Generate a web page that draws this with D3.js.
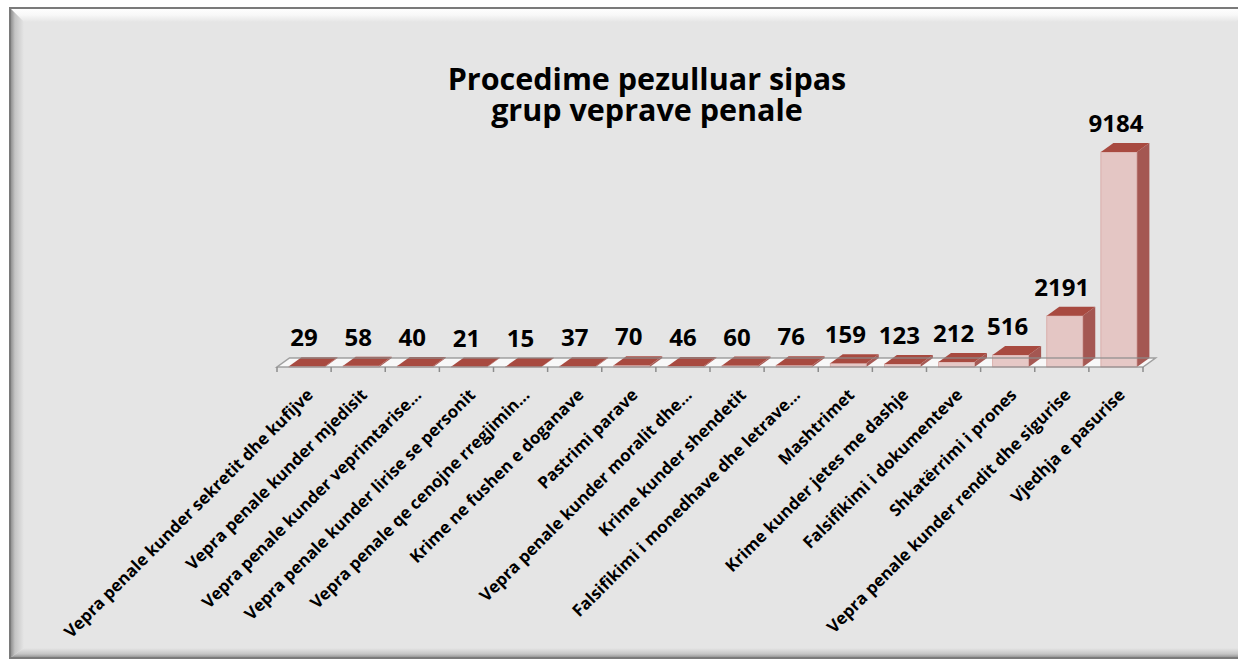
<!DOCTYPE html>
<html><head><meta charset="utf-8">
<script src="https://cdn.jsdelivr.net/npm/d3@7"></script>
<style>body{margin:0;background:#fff;} svg{display:block}</style>
</head><body><svg id="c" width="1238" height="660"></svg>
<script>
const categories = [
  "Vepra penale kunder sekretit dhe kufijve",
  "Vepra penale kunder mjedisit",
  "Vepra penale kunder veprimtarise...",
  "Vepra penale kunder lirise se personit",
  "Vepra penale qe cenojne rregjimin...",
  "Krime ne fushen e doganave",
  "Pastrimi parave",
  "Vepra penale kunder moralit dhe...",
  "Krime kunder shendetit",
  "Falsifikimi i monedhave dhe letrave...",
  "Mashtrimet",
  "Krime kunder jetes me dashje",
  "Falsifikimi i dokumenteve",
  "Shkatërrimi i prones",
  "Vepra penale kunder rendit dhe sigurise",
  "Vjedhja e pasurise"
];
const values = [29, 58, 40, 21, 15, 37, 70, 46, 60, 76, 159, 123, 212, 516, 2191, 9184];
const titleLines = ["Procedime pezulluar sipas", "grup veprave penale"];
const yDomain = [0, 10000];

const svg = d3.select("#c");
const defs = svg.append("defs");
function lin(id, x1, y1, x2, y2, stops) {
  const g = defs.append("linearGradient").attr("id", id)
    .attr("x1", x1).attr("y1", y1).attr("x2", x2).attr("y2", y2);
  stops.forEach(s => g.append("stop").attr("offset", s[0]).attr("stop-color", s[1]));
}
lin("gTop", 0, 0, 0, 1, [[0, "#ffffff"], [0.5, "#f8f8f8"], [1, "#e5e5e5"]]);
lin("gLeft", 0, 0, 1, 0, [[0, "#858585"], [0.35, "#c4c4c4"], [1, "#e5e5e5"]]);
lin("gBot", 0, 0, 0, 1, [[0, "#e5e5e5"], [0.6, "#c4c4c4"], [1, "#8a8a8a"]]);

// frame
const fx = 10, fy = 8, fw = 1240, fh = 650, bev = 14;
svg.append("rect").attr("x", fx).attr("y", fy).attr("width", fw).attr("height", fh)
  .attr("fill", "#e5e5e5");
svg.append("polygon").attr("points", [[fx, fy], [fx + fw, fy], [fx + fw - bev, fy + bev], [fx + bev, fy + bev]].join(" "))
  .attr("fill", "url(#gTop)");
svg.append("polygon").attr("points", [[fx, fy], [fx + bev, fy + bev], [fx + bev, fy + fh - 10], [fx, fy + fh]].join(" "))
  .attr("fill", "url(#gLeft)");
svg.append("polygon").attr("points", [[fx, fy + fh], [fx + bev, fy + fh - 10], [fx + fw, fy + fh - 10], [fx + fw, fy + fh]].join(" "))
  .attr("fill", "url(#gBot)");
svg.append("rect").attr("x", fx).attr("y", fy).attr("width", fw).attr("height", fh)
  .attr("fill", "none").attr("stroke", "#7a7a7a").attr("stroke-width", 2);

// title
const title = svg.append("text").attr("text-anchor", "middle")
  .attr("font-family", "'Open Sans', sans-serif").attr("font-weight", 700)
  .attr("font-size", 30.5).attr("fill", "#000");
titleLines.forEach((t, i) => {
  title.append("tspan").attr("x", 647).attr("y", 90 + i * 31).text(t);
});

// scales
const x = d3.scaleBand().domain(categories).range([277, 1143]).padding(0);
const y = d3.scaleLinear().domain(yDomain).range([367, 133]);
const bw = x.bandwidth();
const barW = bw * 0.665, barOff = bw * 0.222;
const dx = 12.5, dy = 9;
const y0 = y(0);

// floor
const floorPts = [[x.range()[0], y0], [x.range()[1], y0], [x.range()[1] + dx, y0 - dy], [x.range()[0] + dx, y0 - dy]];
svg.append("polygon").attr("points", floorPts.join(" ")).attr("fill", "#f8f8f8");

// ticks
const tickPos = categories.map(c => x(c)).concat([x.range()[1]]);
svg.append("g").selectAll("line").data(tickPos).join("line")
  .attr("x1", d => d).attr("x2", d => d).attr("y1", y0).attr("y2", y0 + 5)
  .attr("stroke", "#8c8c8c").attr("stroke-width", 1.5);

// bars
const bars = svg.append("g");
categories.forEach((c, i) => {
  const v = values[i];
  const bx = x(c) + barOff, yt = y(v);
  const g = bars.append("g");
  g.append("polygon").attr("points", [[bx + barW, yt], [bx + barW + dx, yt - dy], [bx + barW + dx, y0 - dy], [bx + barW, y0]].join(" "))
    .attr("fill", "#9e4b45").attr("fill-opacity", 0.92);
  g.append("rect").attr("x", bx).attr("y", yt).attr("width", barW).attr("height", y0 - yt)
    .attr("fill", "#e4c3c1").attr("fill-opacity", 0.92)
    .attr("stroke", "#d6a6a2").attr("stroke-width", 0.8);
  g.append("polygon").attr("points", [[bx, yt], [bx + dx, yt - dy], [bx + barW + dx, yt - dy], [bx + barW, yt]].join(" "))
    .attr("fill", "#a84a40");
});

// floor outline on top
svg.append("polygon").attr("points", floorPts.join(" "))
  .attr("fill", "none").attr("stroke", "#8c8c8c").attr("stroke-width", 1.5).attr("stroke-opacity", 0.8);

// value labels
svg.append("g").selectAll("text").data(values).join("text")
  .attr("x", (d, i) => x(categories[i]) + bw / 2)
  .attr("y", d => y(d) - dy - 11)
  .attr("text-anchor", "middle")
  .attr("font-family", "'Open Sans', sans-serif").attr("font-weight", 700)
  .attr("font-size", 24).attr("fill", "#000")
  .text(d => d);

// category labels
svg.append("g").selectAll("text").data(categories).join("text")
  .attr("transform", c => `translate(${x(c) + bw / 2 + 10},${y0 + 29}) rotate(-45)`)
  .attr("text-anchor", "end")
  .attr("font-family", "'Open Sans', sans-serif").attr("font-weight", 700)
  .attr("font-size", 16.8).attr("fill", "#000")
  .text(c => c);
</script>
</body></html>
